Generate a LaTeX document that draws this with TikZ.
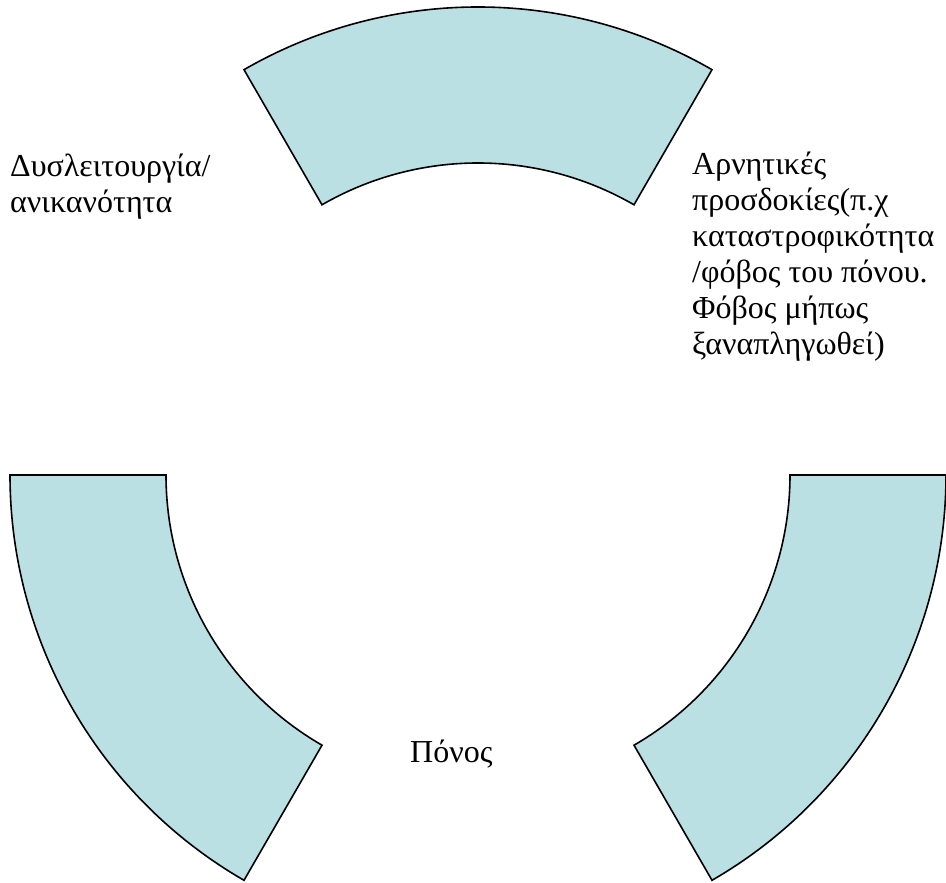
\documentclass[tikz,border=0pt]{standalone}
\usepackage{fontspec}
\setmainfont{Liberation Serif}
\definecolor{ringblue}{RGB}{187,224,227}
\begin{document}
\begin{tikzpicture}[x=1pt, y=1pt,
		ring/.style={fill=ringblue, draw=black, line width=1.6pt, line join=miter},
		label/.style={inner sep=0pt, align=left, font=\fontsize{32}{36}\selectfont}]
		\useasboundingbox (0, 0) rectangle (946, 883);
		% three parts of the ring
		\begin{scope}[shift={(478, 408)}]
			\draw[ring] (60:468) arc (60:120:468) -- (120:312) arc (120:60:312) -- cycle;
			\draw[ring] (180:468) arc (180:240:468) -- (240:312) arc (240:180:312) -- cycle;
			\draw[ring] (300:468) arc (300:360:468) -- (360:312) arc (360:300:312) -- cycle;
		\end{scope}
		% base anchor sits on the last line
		\node[label, anchor=base west] (dys) at (10, 670) {Δυσλειτουργία/\\ανικανότητα};
		\node[label, anchor=base west] (arn) at (692, 528) {Αρνητικές\\προσδοκίες(π.χ\\καταστροφικότητα\\/φόβος του πόνου.\\Φόβος μήπως\\ξαναπληγωθεί)};
		\node[label, anchor=base west] (pon) at (410, 120) {Πόνος};
	\end{tikzpicture}
\end{document}
